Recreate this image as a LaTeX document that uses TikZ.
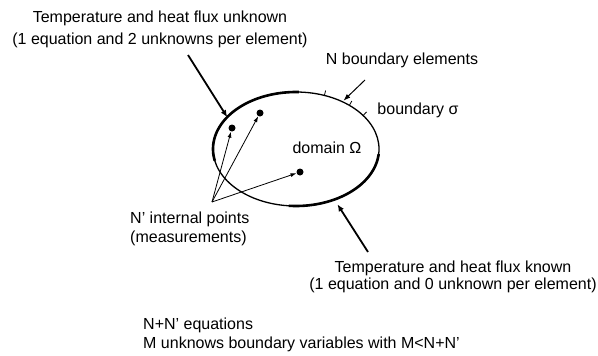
\documentclass[tikz,border=0pt]{standalone}
\usepackage{fontspec}
\setmainfont{Liberation Sans}
\usetikzlibrary{arrows.meta}
\tikzset{
  lbl/.style={inner sep=0pt, font=\fontsize{16}{19}\selectfont},
  dot/.style={circle, fill=black, inner sep=0pt, minimum size=7pt},
  bigarrow/.style={line width=1.8pt, -{Latex[length=7pt,width=6pt]}},
  smallarrow/.style={line width=1pt, -{Latex[length=7pt,width=5pt]}},
  ptarrow/.style={line width=0.8pt, -{Latex[length=6pt,width=4pt]}},
  thickarc/.style={line width=2.6pt},
}
\begin{document}
\begin{tikzpicture}[x=1pt,y=-1pt]
\useasboundingbox (0,0) rectangle (598,356);
% domain
\begin{scope}[shift={(296,149)}]
  \draw[line width=1.3pt] (0,0) ellipse [x radius=83, y radius=57];
  \draw[thickarc] plot[domain=88:192, samples=50] ({83*cos(\x)},{-57*sin(\x)});
  \draw[thickarc] plot[domain=265:355, samples=50] ({83*cos(\x)},{-57*sin(\x)});
  \foreach \t in {70,50,36}
    \draw[line width=0.8pt] ({83*cos(\t)},{-57*sin(\t)}) -- ++({5*57*cos(\t)/sqrt((57*cos(\t))^2+(83*sin(\t))^2)},{-5*83*sin(\t)/sqrt((57*cos(\t))^2+(83*sin(\t))^2)});
  \coordinate (eA) at ({83*cos(146)},{-57*sin(146)});
  \coordinate (eB) at ({83*cos(56)+1},{-57*sin(56)-1});
  \coordinate (eC) at ({83*cos(300)},{-57*sin(300)+6});
\end{scope}
% labels
\node[lbl, align=center] (tunk) at (160,29) {Temperature and heat flux unknown\\[3pt](1 equation and 2 unknowns per element)};
\node[lbl] (nbe) at (402,60) {N boundary elements};
\node[lbl] (bsig) at (418,110) {boundary σ};
\node[lbl] (dom) at (327,148) {domain Ω};
\node[lbl, align=left, anchor=west] (nint) at (130,228.5) {N' internal points\\(measurements)};
\node[lbl, align=center, font=\fontsize{16}{16.5}\selectfont] (tkn) at (453,277) {Temperature and heat flux known\\(1 equation and 0 unknown per element)};
\node[lbl, align=left, anchor=west] (eqs) at (143,335) {N+N' equations\\M unknows boundary variables with M<N+N'};
% connectors
\coordinate (a1) at (188,55);
\coordinate (a2) at (365,80);
\coordinate (a3) at (368,252);
\draw[bigarrow] (a1) -- (eA);
\draw[smallarrow] (a2) -- (eB);
\draw[bigarrow] (a3) -- (eC);
% internal points
\coordinate (o) at (212,202);
\node[dot] (d1) at (232,128) {};
\node[dot] (d2) at (260,113) {};
\node[dot] (d3) at (300,172) {};
\draw[ptarrow] (o) -- (d1);
\draw[ptarrow] (o) -- (d2);
\draw[ptarrow] (o) -- (d3);
\end{tikzpicture}
\end{document}
